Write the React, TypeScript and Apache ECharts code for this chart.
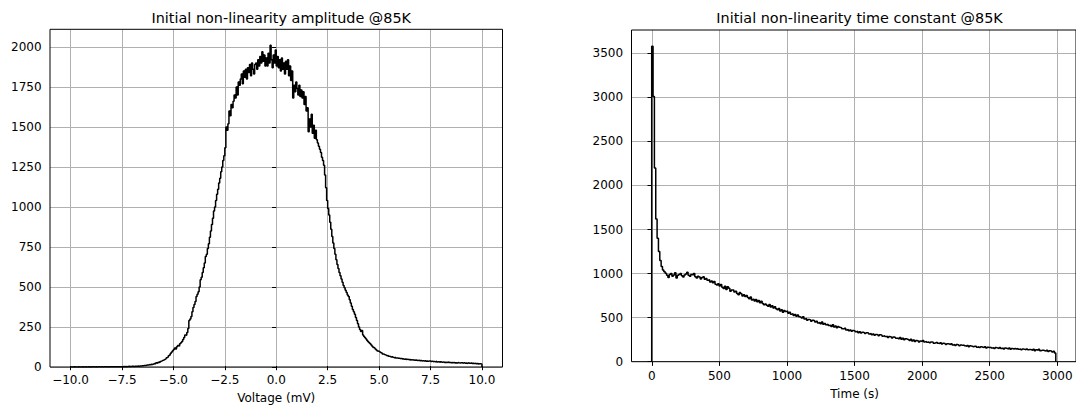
import React, { useEffect, useRef } from "react";
import * as echarts from "echarts";

// ---------------- data ----------------
const ampTitle = "Initial non-linearity amplitude @85K";
const ampXName = "Voltage (mV)";
const ampBinStart = -10;
const ampBinWidth = 0.05;
const ampCounts = [
  0, 0, 0, 1, 0, 0, 0, 1, 0, 0,
  0, 1, 0, 0, 1, 0, 0, 1, 0, 1,
  0, 1, 1, 0, 1, 0, 1, 1, 0, 1,
  1, 0, 1, 2, 1, 1, 0, 2, 1, 1,
  1, 2, 1, 1, 2, 1, 2, 1, 2, 2,
  2, 3, 2, 3, 2, 3, 4, 3, 3, 4,
  4, 3, 5, 4, 5, 6, 5, 7, 6, 8,
  8, 10, 9, 11, 13, 12, 15, 14, 17, 16,
  19, 22, 21, 26, 24, 30, 28, 35, 38, 42,
  44, 48, 52, 58, 62, 70, 75, 86, 94, 102,
  110, 118, 112, 126, 134, 130, 145, 152, 160, 172,
  185, 200, 198, 215, 240, 290, 300, 315, 345, 372,
  390, 410, 440, 455, 470, 500, 545, 560, 590, 620,
  650, 690, 705, 740, 770, 810, 850, 890, 930, 975,
  1000, 1040, 1080, 1110, 1150, 1180, 1220, 1250, 1290, 1320,
  1370, 1500, 1480, 1520, 1600, 1570, 1640, 1620, 1660, 1700,
  1680, 1750, 1700, 1780, 1760, 1800, 1830, 1770, 1850, 1810,
  1860, 1800, 1870, 1840, 1890, 1820, 1900, 1860, 1830, 1890,
  1900, 1860, 1920, 1880, 1940, 1900, 1970, 1910, 1950, 1880,
  1930, 1880, 1960, 1900, 2010, 1920, 1870, 1950, 1900, 1980,
  1880, 1940, 1870, 1920, 1850, 1930, 1860, 1900, 1830, 1910,
  1860, 1920, 1820, 1880, 1790, 1850, 1680, 1760, 1720, 1780,
  1740, 1700, 1760, 1690, 1730, 1680, 1720, 1640, 1690, 1600,
  1620, 1470, 1550, 1500, 1580, 1460, 1510, 1430, 1480, 1420,
  1400, 1380, 1360, 1340, 1310, 1290, 1260, 1200, 1120, 1040,
  990, 950, 905, 860, 815, 775, 740, 705, 670, 640,
  615, 590, 570, 550, 530, 510, 495, 480, 465, 450,
  440, 420, 400, 380, 360, 345, 330, 310, 290, 270,
  250, 235, 222, 228, 200, 190, 182, 175, 165, 158,
  152, 145, 138, 130, 122, 118, 112, 106, 100, 98,
  96, 90, 88, 82, 80, 76, 74, 70, 72, 67,
  66, 62, 64, 60, 58, 61, 56, 57, 54, 55,
  52, 54, 50, 51, 48, 50, 47, 49, 46, 47,
  44, 46, 43, 45, 41, 44, 42, 40, 43, 39,
  41, 38, 40, 37, 39, 36, 38, 35, 37, 38,
  34, 37, 33, 35, 32, 36, 31, 34, 30, 33,
  31, 29, 32, 28, 30, 27, 31, 28, 29, 27,
  28, 26, 29, 25, 27, 24, 28, 26, 25, 27,
  26, 24, 27, 23, 25, 22, 26, 24, 23, 25,
  22, 24, 21, 23, 20, 22, 19, 21, 20, 18,
];
const ampXRange = [-11, 11];
const ampYRange = [0, 2110];
const ampXTicks = [-10, 10, 2.5];
const ampYTicks = [0, 2000, 250];

const tauTitle = "Initial non-linearity time constant @85K";
const tauXName = "Time (s)";
const tauBinStart = 0;
const tauBinWidth = 10;
const tauCounts = [
  3580, 3010, 2200, 1620, 1400, 1250, 1150, 1080, 1040, 1020,
  1005, 980, 955, 990, 1000, 970, 985, 1010, 950, 980,
  990, 1000, 975, 960, 985, 995, 1015, 980, 970, 990,
  985, 1000, 965, 950, 970, 960, 940, 955, 965, 935,
  945, 925, 930, 905, 915, 895, 910, 880, 870, 885,
  860, 875, 845, 830, 855, 820, 850, 835, 800, 815,
  815, 790, 800, 775, 760, 785, 770, 745, 760, 740,
  750, 730, 715, 735, 700, 710, 690, 705, 680, 695,
  670, 685, 660, 645, 655, 640, 630, 650, 620, 635,
  610, 625, 600, 590, 605, 575, 590, 560, 580, 570,
  575, 550, 560, 540, 545, 525, 535, 515, 530, 510,
  505, 495, 510, 485, 490, 470, 480, 475, 460, 470,
  465, 450, 460, 440, 445, 430, 450, 425, 435, 420,
  425, 410, 415, 400, 420, 395, 405, 385, 400, 390,
  385, 375, 370, 380, 360, 365, 350, 360, 345, 355,
  350, 340, 345, 330, 340, 325, 335, 330, 320, 330,
  325, 315, 320, 305, 315, 300, 310, 305, 295, 305,
  300, 290, 295, 285, 290, 275, 285, 280, 270, 280,
  275, 265, 270, 260, 275, 255, 265, 250, 260, 255,
  250, 240, 255, 235, 245, 230, 240, 235, 225, 235,
  230, 240, 225, 230, 220, 225, 215, 225, 220, 210,
  215, 220, 210, 205, 215, 200, 210, 205, 195, 205,
  200, 195, 205, 190, 195, 185, 195, 190, 180, 190,
  185, 190, 180, 175, 185, 170, 180, 175, 170, 175,
  175, 165, 170, 160, 170, 165, 160, 170, 155, 165,
  160, 165, 155, 160, 150, 160, 155, 150, 160, 150,
  155, 145, 155, 150, 145, 155, 140, 150, 145, 150,
  145, 150, 140, 145, 135, 145, 140, 135, 145, 135,
  140, 135, 130, 140, 125, 135, 130, 140, 125, 130,
  130, 125, 120, 130, 115, 125, 120, 110, 120, 100,
];
const tauXRange = [-150, 3150];
const tauYRange = [0, 3765];
const tauXTicks = [0, 3000, 500];
const tauYTicks = [0, 3500, 500];

// ---------------- styling ----------------
const FONT = "DejaVu Sans";
const TEXT = "#000";
const GRIDLINE = "#b0b0b0";

function stepData(start: number, width: number, counts: number[]) {
  const pts: number[][] = [[start, 0]];
  counts.forEach((c, i) => pts.push([start + i * width, c]));
  const end = start + counts.length * width;
  pts.push([end, counts[counts.length - 1]]);
  pts.push([end, 0]);
  return pts;
}

const fmtDec = (v: number) => (v < 0 ? "\u2212" : "") + Math.abs(v).toFixed(1);
const fmtInt = (v: number) => String(Math.round(v));

type Panel = {
  left: number; top: number; width: number; height: number;
  xr: number[]; yr: number[]; xt: number[]; yt: number[];
  xfmt: (v: number) => string; xname: string; title: string;
  data: number[][];
};

function buildOption(panels: Panel[]) {
  const grid: any[] = [];
  const xAxis: any[] = [];
  const yAxis: any[] = [];
  const series: any[] = [];
  const title: any[] = [];
  const tick = { show: true, inside: false, length: 4.2, lineStyle: { color: TEXT, width: 1 } };
  const label = (fmt: (v: number) => string) => ({
    margin: 8.4, fontSize: 12, color: TEXT, fontFamily: FONT, formatter: fmt,
  });
  const split = { show: true, lineStyle: { color: GRIDLINE, width: 1 } };

  panels.forEach((p) => {
    const sx = p.width / (p.xr[1] - p.xr[0]);
    const sy = p.height / (p.yr[1] - p.yr[0]);
    // frame + data grid
    const gF = grid.length;
    grid.push({ left: p.left, top: p.top, width: p.width, height: p.height, show: true,
      borderColor: "#000", borderWidth: 1, backgroundColor: "transparent", z: 5 });
    xAxis.push({ gridIndex: gF, type: "value", min: p.xr[0], max: p.xr[1], show: false });
    yAxis.push({ gridIndex: gF, type: "value", min: p.yr[0], max: p.yr[1], show: false });
    const xF = xAxis.length - 1, yF = yAxis.length - 1;
    // vertical grid lines + x ticks
    const gV = grid.length;
    grid.push({ left: p.left + (p.xt[0] - p.xr[0]) * sx, top: p.top,
      width: (p.xt[1] - p.xt[0]) * sx, height: p.height, show: false });
    xAxis.push({ gridIndex: gV, type: "value", min: p.xt[0], max: p.xt[1], interval: p.xt[2],
      position: "bottom", axisLine: { show: false }, axisTick: tick, axisLabel: label(p.xfmt),
      splitLine: split, name: p.xname, nameLocation: "middle", nameGap: 26,
      nameTextStyle: { fontSize: 12, color: TEXT, fontFamily: FONT } });
    yAxis.push({ gridIndex: gV, type: "value", min: p.yr[0], max: p.yr[1], show: false });
    // horizontal grid lines + y ticks
    const gH = grid.length;
    grid.push({ left: p.left, top: p.top + (p.yr[1] - p.yt[1]) * sy, width: p.width,
      height: (p.yt[1] - p.yt[0]) * sy, show: false });
    xAxis.push({ gridIndex: gH, type: "value", min: p.xr[0], max: p.xr[1], show: false });
    yAxis.push({ gridIndex: gH, type: "value", min: p.yt[0], max: p.yt[1], interval: p.yt[2],
      position: "left", axisLine: { show: false }, axisTick: tick, axisLabel: label(fmtInt),
      splitLine: split });

    series.push({ type: "line", xAxisIndex: xF, yAxisIndex: yF, data: p.data, step: "end",
      showSymbol: false, symbol: "none", lineStyle: { color: "#000", width: 1.5 },
      itemStyle: { color: "#000" }, z: 3 });

    title.push({ text: p.title, left: p.left + p.width / 2, top: 6, textAlign: "center",
      textStyle: { fontSize: 14.4, fontWeight: "normal", color: TEXT, fontFamily: FONT } });
  });

  return { animation: false, backgroundColor: "#fff", title, grid, xAxis, yAxis, series };
}

export default function App() {
  const ref = useRef<HTMLDivElement>(null);
  useEffect(() => {
    if (!ref.current) return;
    const chart = echarts.init(ref.current, null, { renderer: "svg" });
    const panels: Panel[] = [
      { left: 50, top: 29.3, width: 452.5, height: 337.7, xr: ampXRange, yr: ampYRange,
        xt: ampXTicks, yt: ampYTicks, xfmt: fmtDec, xname: ampXName, title: ampTitle,
        data: stepData(ampBinStart, ampBinWidth, ampCounts) },
      { left: 631.5, top: 30, width: 446.1, height: 331.7, xr: tauXRange, yr: tauYRange,
        xt: tauXTicks, yt: tauYTicks, xfmt: fmtInt, xname: tauXName, title: tauTitle,
        data: stepData(tauBinStart, tauBinWidth, tauCounts) },
    ];
    chart.setOption(buildOption(panels));
    return () => chart.dispose();
  }, []);
  return (
    <div ref={ref} style={{ position: "absolute", left: 0, top: 0, width: 1076, height: 409 }} />
  );
}
